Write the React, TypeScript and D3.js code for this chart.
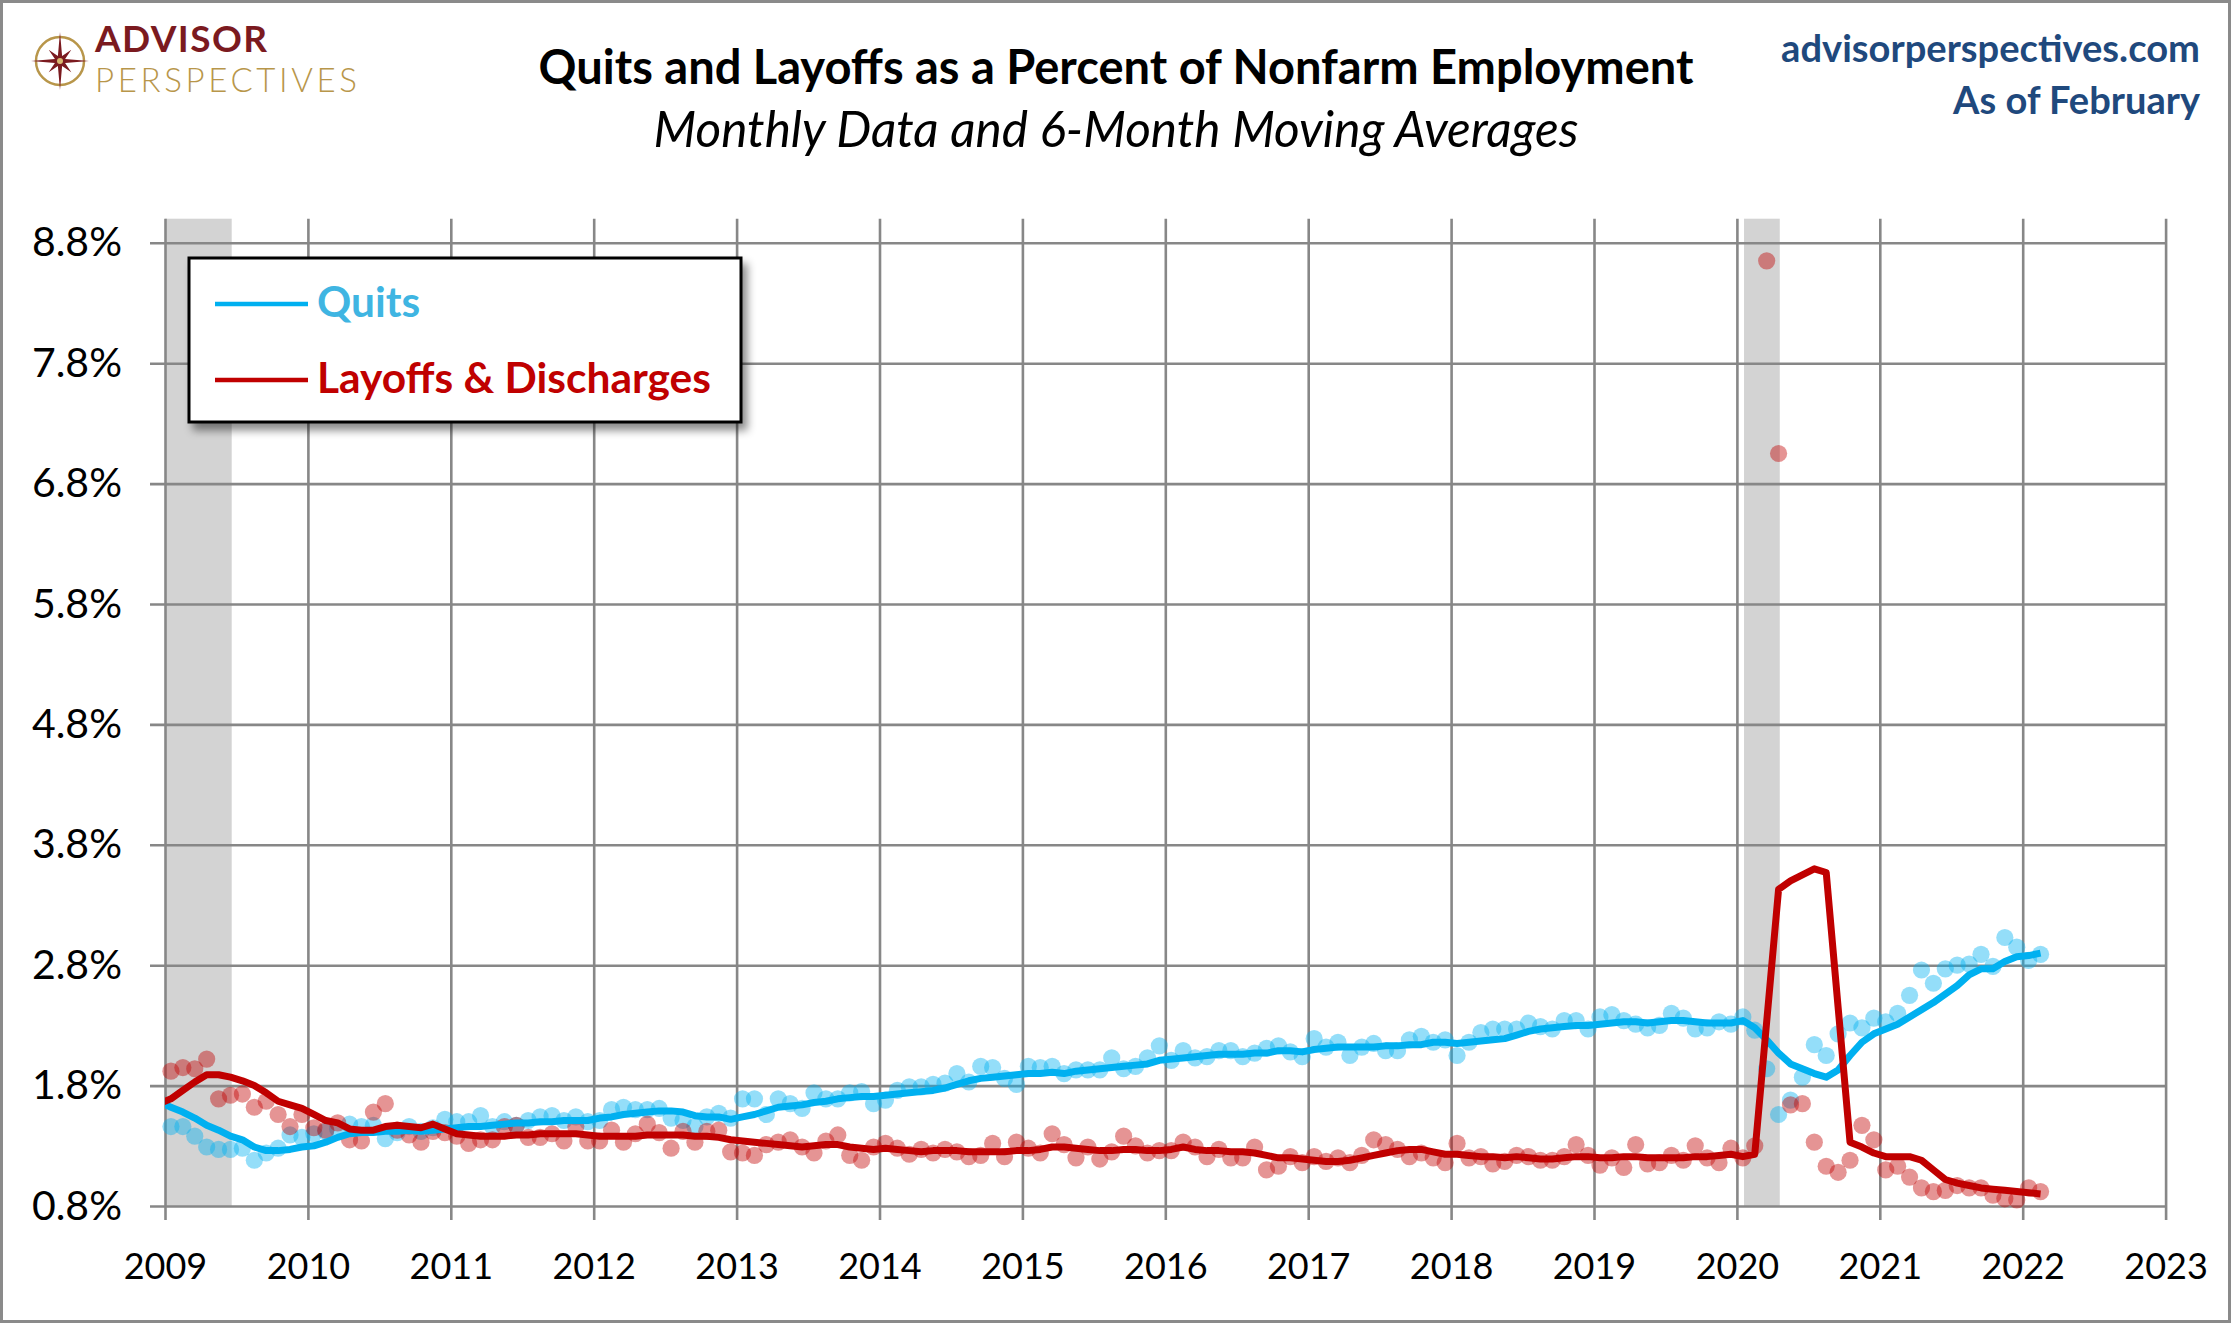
import React, { useRef, useEffect } from "react"
import * as d3 from "d3"

const WIDTH = 2231
const HEIGHT = 1323

// monthly rates, Jan 2009 .. Feb 2022 (% of nonfarm employment)
const quitsRate = [
  1.46, 1.46, 1.38, 1.29, 1.27, 1.27, 1.28, 1.18, 1.24, 1.28, 1.39, 1.37, // 2009
  1.40, 1.42, 1.44, 1.48, 1.46, 1.47, 1.36, 1.41, 1.46, 1.42, 1.45, 1.52, // 2010
  1.50, 1.50, 1.55, 1.46, 1.50, 1.47, 1.51, 1.54, 1.55, 1.51, 1.54, 1.50, // 2011
  1.51, 1.60, 1.62, 1.60, 1.60, 1.61, 1.53, 1.51, 1.46, 1.54, 1.57, 1.53, // 2012
  1.69, 1.69, 1.56, 1.69, 1.65, 1.61, 1.74, 1.69, 1.69, 1.74, 1.75, 1.65, // 2013
  1.68, 1.76, 1.79, 1.79, 1.81, 1.82, 1.90, 1.83, 1.96, 1.95, 1.86, 1.81, // 2014
  1.96, 1.95, 1.96, 1.90, 1.93, 1.93, 1.93, 2.03, 1.94, 1.96, 2.03, 2.13, // 2015
  2.01, 2.09, 2.03, 2.04, 2.09, 2.09, 2.04, 2.07, 2.11, 2.13, 2.08, 2.04, // 2016
  2.19, 2.12, 2.16, 2.05, 2.12, 2.15, 2.09, 2.09, 2.18, 2.21, 2.16, 2.18, // 2017
  2.05, 2.16, 2.24, 2.27, 2.27, 2.27, 2.32, 2.29, 2.27, 2.34, 2.34, 2.27, // 2018
  2.37, 2.39, 2.34, 2.31, 2.28, 2.30, 2.40, 2.36, 2.27, 2.28, 2.33, 2.31, // 2019
  2.37, 2.26, 1.94, 1.56, 1.68, 1.87, 2.14, 2.05, 2.23, 2.32, 2.28, 2.36, // 2020
  2.33, 2.40, 2.55, 2.76, 2.65, 2.77, 2.80, 2.81, 2.89, 2.79, 3.03, 2.95, // 2021
  2.84, 2.89, // 2022
]

const layoffsRate = [
  1.92, 1.95, 1.94, 2.02, 1.69, 1.72, 1.73, 1.62, 1.67, 1.56, 1.46, 1.56, // 2009
  1.45, 1.43, 1.49, 1.35, 1.34, 1.58, 1.65, 1.43, 1.39, 1.33, 1.42, 1.41, // 2010
  1.38, 1.32, 1.35, 1.35, 1.46, 1.47, 1.37, 1.37, 1.40, 1.34, 1.46, 1.34, // 2011
  1.34, 1.43, 1.33, 1.40, 1.48, 1.41, 1.28, 1.42, 1.33, 1.42, 1.43, 1.25, // 2012
  1.24, 1.22, 1.31, 1.33, 1.35, 1.29, 1.24, 1.34, 1.39, 1.22, 1.18, 1.29, // 2013
  1.32, 1.28, 1.23, 1.27, 1.24, 1.27, 1.25, 1.21, 1.22, 1.32, 1.21, 1.33, // 2014
  1.28, 1.24, 1.40, 1.31, 1.20, 1.29, 1.19, 1.25, 1.38, 1.30, 1.24, 1.26, // 2015
  1.26, 1.33, 1.29, 1.21, 1.27, 1.20, 1.20, 1.29, 1.10, 1.13, 1.21, 1.16, // 2016
  1.21, 1.17, 1.20, 1.16, 1.22, 1.35, 1.31, 1.27, 1.21, 1.24, 1.20, 1.16, // 2017
  1.32, 1.20, 1.21, 1.15, 1.17, 1.22, 1.21, 1.18, 1.18, 1.21, 1.31, 1.22, // 2018
  1.14, 1.20, 1.12, 1.31, 1.15, 1.16, 1.22, 1.18, 1.30, 1.20, 1.16, 1.28, // 2019
  1.20, 1.30, 8.65, 7.05, 1.64, 1.65, 1.33, 1.13, 1.08, 1.18, 1.47, 1.35, // 2020
  1.10, 1.13, 1.04, 0.95, 0.92, 0.93, 0.97, 0.95, 0.95, 0.89, 0.86, 0.85, // 2021
  0.95, 0.92, // 2022
]

// 6-month moving averages, Dec 2008 .. Feb 2022
const quitsAvg = [
  1.67, // Dec 2008
  1.62, 1.58, 1.53, 1.47, 1.43, 1.38, 1.35, 1.29, 1.26, 1.26, 1.27, 1.29,
  1.30, 1.33, 1.37, 1.40, 1.41, 1.41, 1.42, 1.42, 1.43, 1.42, 1.43, 1.44,
  1.45, 1.46, 1.46, 1.47, 1.48, 1.49, 1.49, 1.50, 1.50, 1.51, 1.51, 1.51,
  1.53, 1.54, 1.56, 1.57, 1.58, 1.59, 1.59, 1.58, 1.55, 1.54, 1.54, 1.52,
  1.54, 1.56, 1.59, 1.62, 1.63, 1.64, 1.66, 1.67, 1.69, 1.70, 1.71, 1.71,
  1.72, 1.73, 1.74, 1.75, 1.76, 1.78, 1.81, 1.84, 1.86, 1.87, 1.88, 1.89,
  1.90, 1.90, 1.91, 1.90, 1.92, 1.93, 1.94, 1.95, 1.96, 1.97, 1.98, 2.01,
  2.02, 2.03, 2.04, 2.05, 2.06, 2.06, 2.06, 2.07, 2.07, 2.09, 2.09, 2.08,
  2.10, 2.11, 2.12, 2.12, 2.12, 2.12, 2.13, 2.13, 2.14, 2.14, 2.16, 2.16,
  2.15, 2.16, 2.17, 2.18, 2.19, 2.22, 2.25, 2.27, 2.28, 2.29, 2.30, 2.30,
  2.31, 2.32, 2.33, 2.33, 2.32, 2.33, 2.34, 2.34, 2.33, 2.32, 2.32, 2.32,
  2.34, 2.28, 2.18, 2.07, 1.98, 1.94, 1.90, 1.87, 1.93, 2.05, 2.16, 2.23,
  2.27, 2.31, 2.37, 2.43, 2.49, 2.56, 2.63, 2.72, 2.77, 2.77, 2.83, 2.87,
  2.88, 2.90,
]

const layoffsAvg = [
  1.65, // Dec 2008
  1.69, 1.76, 1.83, 1.89, 1.89, 1.87, 1.84, 1.80, 1.74, 1.67, 1.64, 1.61,
  1.56, 1.51, 1.49, 1.44, 1.43, 1.43, 1.46, 1.47, 1.46, 1.45, 1.48, 1.44,
  1.40, 1.39, 1.38, 1.38, 1.38, 1.39, 1.39, 1.40, 1.40, 1.40, 1.40, 1.39,
  1.38, 1.38, 1.38, 1.38, 1.39, 1.39, 1.39, 1.39, 1.38, 1.38, 1.37, 1.35,
  1.34, 1.33, 1.32, 1.31, 1.30, 1.29, 1.30, 1.31, 1.31, 1.29, 1.28, 1.27,
  1.28, 1.27, 1.26, 1.25, 1.26, 1.26, 1.26, 1.25, 1.25, 1.25, 1.25, 1.26,
  1.26, 1.27, 1.29, 1.29, 1.28, 1.27, 1.26, 1.26, 1.27, 1.27, 1.26, 1.26,
  1.27, 1.29, 1.27, 1.26, 1.26, 1.25, 1.25, 1.24, 1.22, 1.20, 1.20, 1.19,
  1.18, 1.17, 1.17, 1.18, 1.20, 1.22, 1.24, 1.26, 1.27, 1.27, 1.25, 1.23,
  1.23, 1.22, 1.21, 1.21, 1.20, 1.21, 1.20, 1.19, 1.19, 1.20, 1.21, 1.21,
  1.20, 1.20, 1.21, 1.21, 1.20, 1.20, 1.20, 1.20, 1.21, 1.21, 1.22, 1.23,
  1.21, 1.23, 2.33, 3.43, 3.50, 3.55, 3.60, 3.57, 2.45, 1.33, 1.29, 1.24,
  1.21, 1.21, 1.21, 1.18, 1.10, 1.02, 0.99, 0.97, 0.95, 0.94, 0.93, 0.92,
  0.91, 0.90,
]

const yearTicks = d3.range(2009, 2024)
const pctTicks = [0.8, 1.8, 2.8, 3.8, 4.8, 5.8, 6.8, 7.8, 8.8]

// NBER recessions as [year, monthIndex]
const recessions = [
  { start: [2007, 11], end: [2009, 5] },
  { start: [2020, 1], end: [2020, 3] },
]

const legendItems = [
  { label: "Quits", stroke: "#00b0f0", text: "#3fb5e2" },
  { label: "Layoffs & Discharges", stroke: "#c00000", text: "#c00000" },
]

const FONT = "Lato, 'Open Sans', 'Noto Sans', sans-serif"
const QUITS = "#00b0f0"
const LAYOFFS = "#c00000"
const GRID = "#878787"

export default function App() {
  const svgRef = useRef<SVGSVGElement>(null)

  useEffect(() => {
    if (svgRef.current != null) {
      drawChart(svgRef.current)
    }
  }, [])

  return (
    <svg
      ref={svgRef}
      width={WIDTH}
      height={HEIGHT}
      style={{ position: "absolute", left: 0, top: 0, background: "#fff" }}
    />
  )
}

const monthPos = (year: number, month: number) => year + (month + 0.5) / 12

function fitWidth(text, width: number) {
  const node = text.node() as SVGTextElement
  const size = parseFloat(text.attr("font-size"))
  const measured = node.getComputedTextLength()
  if (measured > 0) text.attr("font-size", (size * width) / measured)
}

// keep the font size, spread the letters to reach the width
function spreadWidth(text, width: number) {
  const node = text.node() as SVGTextElement
  const measured = node.getComputedTextLength()
  const n = text.text().length
  if (measured > 0 && n > 1) text.attr("letter-spacing", (width - measured) / (n - 1))
}

function drawChart(el: SVGSVGElement) {
  const svg = d3.select(el)
  svg.selectAll("*").remove()

  const x = d3.scaleLinear().domain([2009, 2023]).range([165, 2165.6])
  const y = d3.scaleLinear().domain([0.8, 9.0]).range([1206, 218.7])
  const [x0, x1] = x.range()
  const [yBottom, yTop] = y.range()

  const defs = svg.append("defs")
  defs
    .append("clipPath")
    .attr("id", "plot-clip")
    .append("rect")
    .attr("x", x0)
    .attr("y", 0)
    .attr("width", x1 - x0)
    .attr("height", HEIGHT)

  const shadow = defs
    .append("filter")
    .attr("id", "legend-shadow")
    .attr("x", "-10%")
    .attr("y", "-20%")
    .attr("width", "130%")
    .attr("height", "150%")
  shadow
    .append("feDropShadow")
    .attr("dx", 5)
    .attr("dy", 7)
    .attr("stdDeviation", 4)
    .attr("flood-color", "#000")
    .attr("flood-opacity", 0.45)

  svg.append("rect").attr("width", WIDTH).attr("height", HEIGHT).attr("fill", "#fff")
  svg
    .append("rect")
    .attr("x", 1.5)
    .attr("y", 1.5)
    .attr("width", WIDTH - 3)
    .attr("height", HEIGHT - 3)
    .attr("fill", "none")
    .attr("stroke", "#8a8a8a")
    .attr("stroke-width", 3)

  // recession shading
  svg
    .append("g")
    .attr("clip-path", "url(#plot-clip)")
    .selectAll("rect")
    .data(recessions)
    .join("rect")
    .attr("x", d => x(monthPos(d.start[0], d.start[1]) - 0.9 / 12))
    .attr(
      "width",
      d =>
        x(monthPos(d.end[0], d.end[1]) + 0.1 / 12) -
        x(monthPos(d.start[0], d.start[1]) - 0.9 / 12)
    )
    .attr("y", yTop)
    .attr("height", yBottom - yTop)
    .attr("fill", "#d3d3d3")

  // y grid + labels
  const yAxis = d3
    .axisLeft(y)
    .tickValues(pctTicks)
    .tickFormat(d => d3.format(".1f")(d) + "%")
    .tickSize(-(x1 - x0))
    .tickPadding(43)

  const yAxisSvg = svg
    .append("g")
    .attr("transform", `translate(${x0},0)`)
    .style("color", GRID)
    .call(yAxis)
  yAxisSvg.select(".domain").remove()
  yAxisSvg.selectAll(".tick line").attr("x1", -15).attr("stroke-width", 2.6)
  yAxisSvg
    .selectAll(".tick text")
    .attr("fill", "#000")
    .attr("font-family", FONT)
    .attr("font-size", 41)

  // x grid + labels
  const xAxis = d3
    .axisBottom(x)
    .tickValues(yearTicks)
    .tickFormat(d3.format("d"))
    .tickSize(-(yBottom - yTop))
    .tickPadding(47)

  const xAxisSvg = svg
    .append("g")
    .attr("transform", `translate(0,${yBottom})`)
    .style("color", GRID)
    .call(xAxis)
  xAxisSvg.select(".domain").remove()
  xAxisSvg.selectAll(".tick line").attr("y1", 14).attr("stroke-width", 2.6)
  xAxisSvg
    .selectAll(".tick text")
    .attr("fill", "#000")
    .attr("font-family", FONT)
    .attr("font-size", 36)

  // monthly dots
  const rateDate = (i: number) => 2009 + (i + 0.5) / 12
  const avgDate = (i: number) => 2009 + (i - 0.5) / 12

  const dots = svg.append("g")
  dots
    .append("g")
    .selectAll("circle")
    .data(quitsRate)
    .join("circle")
    .attr("cx", (d, i) => x(rateDate(i)))
    .attr("cy", d => y(d))
    .attr("r", 8.6)
    .attr("fill", QUITS)
    .attr("fill-opacity", 0.42)
  dots
    .append("g")
    .selectAll("circle")
    .data(layoffsRate)
    .join("circle")
    .attr("cx", (d, i) => x(rateDate(i)))
    .attr("cy", d => y(d))
    .attr("r", 8.6)
    .attr("fill", LAYOFFS)
    .attr("fill-opacity", 0.42)

  // moving averages
  const line = d3
    .line<number>()
    .x((d, i) => x(avgDate(i)))
    .y(d => y(d))

  const lines = svg.append("g").attr("clip-path", "url(#plot-clip)")
  lines
    .append("path")
    .attr("d", line(quitsAvg))
    .attr("fill", "none")
    .attr("stroke", QUITS)
    .attr("stroke-width", 7)
    .attr("stroke-linejoin", "round")
  lines
    .append("path")
    .attr("d", line(layoffsAvg))
    .attr("fill", "none")
    .attr("stroke", LAYOFFS)
    .attr("stroke-width", 7)
    .attr("stroke-linejoin", "round")

  // legend
  const legend = svg.append("g")
  legend
    .append("rect")
    .attr("x", 189)
    .attr("y", 258)
    .attr("width", 552)
    .attr("height", 164)
    .attr("fill", "#fff")
    .attr("stroke", "#000")
    .attr("stroke-width", 3)
    .attr("filter", "url(#legend-shadow)")

  const rows = legend
    .selectAll("g.row")
    .data(legendItems)
    .join("g")
    .attr("class", "row")
    .attr("transform", (d, i) => `translate(0,${304 + i * 76})`)
  rows
    .append("line")
    .attr("x1", 215)
    .attr("x2", 308)
    .attr("stroke", d => d.stroke)
    .attr("stroke-width", 4.5)
  const legendText = rows
    .append("text")
    .attr("x", 317)
    .attr("y", 13)
    .attr("font-family", FONT)
    .attr("font-weight", 700)
    .attr("font-size", 37)
    .attr("fill", d => d.text)
    .text(d => d.label)
  const longest = legendText.filter((d, i) => i === 1)
  fitWidth(longest, 394)
  legendText.attr("font-size", longest.attr("font-size"))

  // titles
  const title = svg
    .append("text")
    .attr("x", 1116)
    .attr("y", 84)
    .attr("text-anchor", "middle")
    .attr("font-family", FONT)
    .attr("font-weight", 700)
    .attr("font-size", 42)
    .attr("fill", "#000")
    .text("Quits and Layoffs as a Percent of Nonfarm Employment")
  fitWidth(title, 1155)

  const subtitle = svg
    .append("text")
    .attr("x", 1116)
    .attr("y", 147)
    .attr("text-anchor", "middle")
    .attr("font-family", FONT)
    .attr("font-style", "italic")
    .attr("font-size", 40)
    .attr("fill", "#000")
    .text("Monthly Data and 6-Month Moving Averages")
  fitWidth(subtitle, 925)

  const site = svg
    .append("text")
    .attr("x", 2200)
    .attr("y", 62)
    .attr("text-anchor", "end")
    .attr("font-family", FONT)
    .attr("font-weight", 700)
    .attr("font-size", 36)
    .attr("fill", "#1f497d")
    .text("advisorperspectives.com")
  fitWidth(site, 419)

  const asOf = svg
    .append("text")
    .attr("x", 2200)
    .attr("y", 114)
    .attr("text-anchor", "end")
    .attr("font-family", FONT)
    .attr("font-weight", 700)
    .attr("font-size", 36)
    .attr("fill", "#1f497d")
    .text("As of February")
  fitWidth(asOf, 247)

  // logo
  const logo = svg.append("g")
  logo
    .append("circle")
    .attr("cx", 60)
    .attr("cy", 61)
    .attr("r", 24)
    .attr("fill", "none")
    .attr("stroke", "#b8964a")
    .attr("stroke-width", 2.5)
  const starPoints = d3.range(16).map(k => {
    const a = (k * Math.PI) / 8 - Math.PI / 2
    const r = k % 2 === 1 ? 5.5 : k % 4 === 0 ? 29 : 16
    return [60 + r * Math.cos(a), 61 + r * Math.sin(a)] as [number, number]
  })
  logo
    .append("path")
    .attr("d", d3.line().curve(d3.curveLinearClosed)(starPoints))
    .attr("fill", "#7b1a1f")
  logo.append("circle").attr("cx", 60).attr("cy", 61).attr("r", 3).attr("fill", "#d9b870")

  const advisor = logo
    .append("text")
    .attr("x", 95)
    .attr("y", 52)
    .attr("font-family", FONT)
    .attr("font-weight", 700)
    .attr("font-size", 37)
    .attr("fill", "#7b1a1f")
    .text("ADVISOR")
  spreadWidth(advisor, 172)

  const perspectives = logo
    .append("text")
    .attr("x", 95)
    .attr("y", 92)
    .attr("font-family", FONT)
    .attr("font-weight", 300)
    .attr("font-size", 33)
    .attr("fill", "#b8964a")
    .text("PERSPECTIVES")
  spreadWidth(perspectives, 262)
}
